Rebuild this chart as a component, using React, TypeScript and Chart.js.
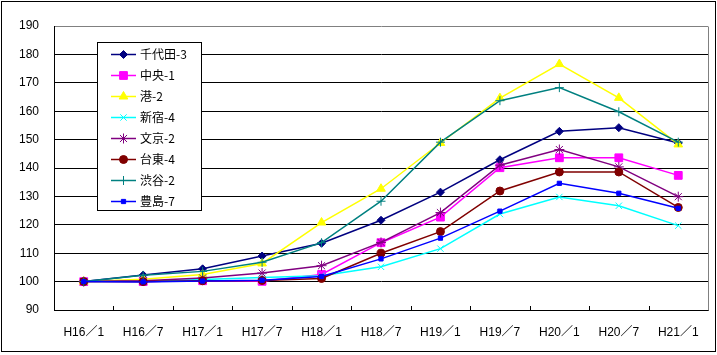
import React, { useEffect, useRef } from 'react';
import { Chart, registerables } from 'chart.js';
import { drawPoint } from 'chart.js/helpers';

Chart.register(...registerables);

const categories = ['H16／1', 'H16／7', 'H17／1', 'H17／7', 'H18／1', 'H18／7', 'H19／1', 'H19／7', 'H20／1', 'H20／7', 'H21／1'];
const seriesNames = ['千代田-3', '中央-1', '港-2', '新宿-4', '文京-2', '台東-4', '渋谷-2', '豊島-7'];

const chiyoda = [100, 102.3, 104.5, 109, 113.5, 121.6, 131.5, 142.9, 152.9, 154.2, 148.8];
const chuo = [100, 100, 100.3, 100.1, 102.5, 113.7, 122.7, 140.1, 143.6, 143.6, 137.4];
const minato = [100, 100.8, 102.5, 106.4, 120.8, 132.7, 148.8, 164.6, 176.6, 164.7, 148.3];
const shinjuku = [100, 100.1, 100.7, 101.4, 102.1, 105.2, 111.6, 123.8, 129.8, 126.7, 119.7];
const bunkyo = [100, 100.3, 101.3, 103, 105.6, 113.8, 124.3, 141, 146.5, 140.4, 129.9];
const taito = [100, 100, 100.3, 100.4, 101.1, 110, 117.6, 131.9, 138.6, 138.6, 126.1];
const shibuya = [100, 102.2, 103.6, 106.8, 113.7, 128.3, 149.1, 163.7, 168.3, 159.8, 149.1];
const toshima = [100, 99.9, 100.2, 100.5, 101.8, 108, 115.3, 124.8, 134.6, 131.1, 125.8];

const seriesData = [chiyoda, chuo, minato, shinjuku, bunkyo, taito, shibuya, toshima];

const yMin = 90;
const yMax = 190;
const yStep = 10;

const colors = ['#000080', '#FF00FF', '#FFFF00', '#00FFFF', '#800080', '#800000', '#008080', '#0000FF'];
const pointStyles = ['rectRot', 'rect', 'triangle', 'crossRot', 'star', 'circle', 'cross', 'rect'];
const pointRadii = [4, 5.5, 5, 4.5, 5, 4, 4.5, 3];

const AXIS_FONT = "'Liberation Sans', 'Noto Sans CJK JP', sans-serif";
const LEGEND_FONT = "'Noto Sans CJK JP', 'Liberation Sans', sans-serif";

export default function App() {
  const ref = useRef<HTMLCanvasElement>(null);

  useEffect(() => {
    document.body.style.margin = '0';
    const canvas = ref.current;
    if (!canvas) return;

    const datasets = seriesData.map((d, i) => ({
      label: seriesNames[i],
      data: d,
      borderColor: colors[i],
      backgroundColor: colors[i],
      borderWidth: 1.5,
      pointStyle: pointStyles[i],
      pointRadius: pointRadii[i],
      pointHoverRadius: pointRadii[i],
      pointBorderWidth: 1,
      pointBackgroundColor: colors[i],
      pointBorderColor: colors[i],
      tension: 0,
      fill: false,
      order: seriesData.length - i,
    }));

    const framePlugin = {
      id: 'framePlugin',
      beforeDatasetsDraw(chart: any) {
        const { ctx, chartArea } = chart;
        const xs = chart.scales.x;
        ctx.save();
        // right border (gray)
        ctx.strokeStyle = '#808080';
        ctx.lineWidth = 1;
        ctx.beginPath();
        const rx = Math.round(chartArea.right) + 0.5;
        ctx.moveTo(rx, Math.round(chartArea.top) + 0.5);
        ctx.lineTo(rx, Math.round(chartArea.bottom) + 0.5);
        ctx.stroke();
        // inward tick marks on x axis at category boundaries
        ctx.strokeStyle = '#000000';
        ctx.beginPath();
        for (let i = 1; i < categories.length; i++) {
          const px = Math.round(xs.getPixelForValue(i - 0.5)) + 0.5;
          ctx.moveTo(px, chartArea.bottom - 4);
          ctx.lineTo(px, chartArea.bottom);
        }
        ctx.stroke();
        ctx.restore();
      },
      afterDatasetsDraw(chart: any) {
        const { ctx } = chart;
        ctx.save();
        // legend box
        const bx = 97.5, by = 42.5, bw = 104, bh = 168;
        ctx.fillStyle = '#FFFFFF';
        ctx.fillRect(bx, by, bw, bh);
        ctx.strokeStyle = '#000000';
        ctx.lineWidth = 1;
        ctx.strokeRect(bx, by, bw, bh);
        ctx.font = `12px ${LEGEND_FONT}`;
        ctx.textBaseline = 'middle';
        ctx.textAlign = 'left';
        for (let i = 0; i < seriesNames.length; i++) {
          const y = 54.5 + i * 21;
          ctx.strokeStyle = colors[i];
          ctx.lineWidth = 1.5;
          ctx.beginPath();
          ctx.moveTo(111, y);
          ctx.lineTo(136, y);
          ctx.stroke();
          ctx.fillStyle = colors[i];
          ctx.strokeStyle = colors[i];
          ctx.lineWidth = 1;
          drawPoint(ctx, { pointStyle: pointStyles[i], radius: pointRadii[i], borderWidth: 1, rotation: 0 } as any, 123.5, y);
          ctx.fillStyle = '#000000';
          ctx.fillText(seriesNames[i], 140, y);
        }
        ctx.restore();
      },
      afterDraw(chart: any) {
        const { ctx } = chart;
        ctx.save();
        ctx.strokeStyle = '#000000';
        ctx.lineWidth = 1;
        ctx.strokeRect(1.5, 1.5, 714, 350);
        ctx.restore();
      },
    };

    const chart = new Chart(canvas, {
      type: 'line',
      data: { labels: categories, datasets },
      options: {
        responsive: false,
        animation: false,
        devicePixelRatio: 1,
        layout: { padding: { top: 26, right: 9, left: 0, bottom: 0 } },
        plugins: {
          legend: { display: false },
          tooltip: { enabled: false },
          title: { display: false },
        },
        scales: {
          x: {
            type: 'category',
            offset: true,
            grid: { display: false, drawTicks: false },
            border: { display: true, color: '#000000', width: 1 },
            ticks: {
              color: '#000000',
              font: { family: AXIS_FONT, size: 12 },
              padding: 15,
              maxRotation: 0,
              autoSkip: false,
            },
            afterFit: (s: any) => { s.height = 45; },
          },
          y: {
            min: yMin,
            max: yMax,
            grid: {
              drawTicks: false,
              lineWidth: 1,
              color: (c: any) => (c.tick && c.tick.value === yMax ? '#808080' : '#000000'),
            },
            border: { display: true, color: '#000000', width: 1 },
            ticks: {
              stepSize: yStep,
              color: '#000000',
              font: { family: AXIS_FONT, size: 12 },
              padding: 15,
            },
            afterFit: (s: any) => { s.width = 54; },
          },
        },
      },
      plugins: [framePlugin],
    });

    return () => { chart.destroy(); };
  }, []);

  return (
    <canvas ref={ref} width={717} height={355} style={{ display: 'block', width: 717, height: 355 }} />
  );
}
